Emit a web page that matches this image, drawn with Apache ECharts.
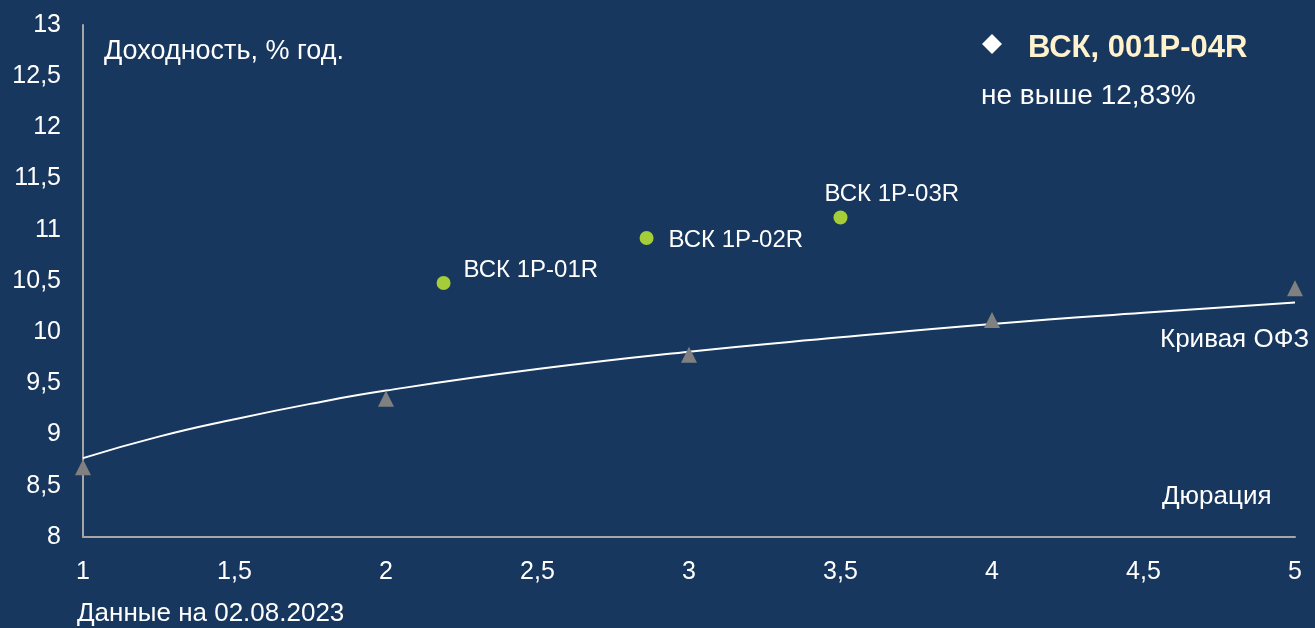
<!DOCTYPE html>
<html><head><meta charset="utf-8">
<script src="https://cdn.jsdelivr.net/npm/echarts@6/dist/echarts.min.js"></script>
<style>html,body{margin:0;padding:0;background:#17375e;}#c{width:1315px;height:628px;}</style>
</head><body><div id="c"></div>
<script>
const bondNames = ['ВСК 1P-01R', 'ВСК 1P-02R', 'ВСК 1P-03R'];
const bondDur = [2.19, 2.86, 3.50];
const bondYield = [10.48, 10.92, 11.12];
const ofzDur = [1, 2, 3, 4, 5];
const ofzYield = [8.68, 9.35, 9.78, 10.12, 10.43];
const curveX = [1, 1.25, 1.5, 1.75, 2, 2.5, 3, 3.5, 4, 4.5, 5];
const curveY = [8.77, 8.98, 9.15, 9.30, 9.43, 9.64, 9.81, 9.95, 10.08, 10.19, 10.29];

const FONT = 'Liberation Sans';
const fmt = v => String(v).replace('.', ',');
const chart = echarts.init(document.getElementById('c'));
const labelPos = [
  {position: 'right', offset: [8, -13]},
  {position: 'right', offset: [10, 2]},
  {position: 'right', offset: [-28, -23]}
];
function txt(x, y, text, size, extra) {
  return {type: 'text', x: x, y: y, style: Object.assign({text: text, fill: '#ffffff', fontSize: size, fontFamily: FONT, verticalAlign: 'middle'}, extra || {})};
}
chart.setOption({
  backgroundColor: '#17375e',
  animation: false,
  textStyle: {fontFamily: FONT},
  grid: {left: 83, right: 20, top: 25, bottom: 91},
  xAxis: {
    type: 'value', min: 1, max: 5, interval: 0.5,
    axisLine: {show: true, lineStyle: {color: '#a6a6a6', width: 2}},
    axisTick: {show: false}, splitLine: {show: false},
    axisLabel: {color: '#ffffff', fontSize: 25, fontFamily: FONT, margin: 23, formatter: fmt}
  },
  yAxis: {
    type: 'value', min: 8, max: 13, interval: 0.5,
    axisLine: {show: true, lineStyle: {color: '#a6a6a6', width: 2}},
    axisTick: {show: false}, splitLine: {show: false},
    axisLabel: {color: '#ffffff', fontSize: 25, fontFamily: FONT, margin: 22, formatter: fmt}
  },
  series: [
    {
      type: 'line', smooth: true, showSymbol: false, symbol: 'none',
      data: curveX.map((x, i) => [x, curveY[i]]),
      lineStyle: {color: '#ffffff', width: 2}, z: 2
    },
    {
      type: 'scatter', symbol: 'triangle', symbolSize: 16,
      data: ofzDur.map((x, i) => [x, ofzYield[i]]),
      itemStyle: {color: '#808080', opacity: 1}, z: 3
    },
    {
      type: 'scatter', symbol: 'circle', symbolSize: 14,
      data: bondDur.map((x, i) => ({
        value: [x, bondYield[i]], name: bondNames[i],
        label: Object.assign({show: true, formatter: '{b}', color: '#ffffff', fontSize: 24, fontFamily: FONT, textBorderWidth: 0}, labelPos[i])
      })),
      itemStyle: {color: '#a5cd39', opacity: 1}, z: 4
    }
  ],
  graphic: [
    txt(104, 52, 'Доходность, % год.', 27),
    {type: 'polygon', shape: {points: [[992, 34], [1002, 44], [992, 54], [982, 44]]}, style: {fill: '#ffffff'}},
    txt(1028, 48, 'ВСК, 001P-04R', 31, {fill: '#fff2cc', fontWeight: 'bold'}),
    txt(981, 96, 'не выше 12,83%', 28),
    txt(1160, 340, 'Кривая ОФЗ', 26),
    txt(1162, 497, 'Дюрация', 26),
    txt(77, 614, 'Данные на 02.08.2023', 26)
  ]
});
</script></body></html>
